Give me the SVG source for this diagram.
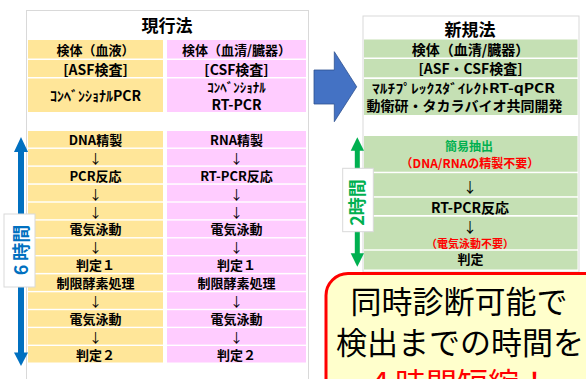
<svg xmlns="http://www.w3.org/2000/svg" width="586" height="379" viewBox="0 0 586 379">
<style>
text{font-family:"Noto Sans CJK JP","Noto Sans",sans-serif;dominant-baseline:central;text-anchor:middle;fill:#000}
.b{font-weight:bold}
.t{font-size:17px;font-weight:bold}
.h{font-size:13px;font-weight:bold}
.m{font-size:14px;font-weight:bold}
.s{font-size:13px;font-weight:bold}
.c{font-size:13px;font-weight:bold}
.ar{font-size:13px}
.y{fill:#FFE699}
.p{fill:#FFCCFF}
.g{fill:#C5E0B4}
.panel{fill:#fff;stroke:#D9D9D9;stroke-width:1}
.big{font-size:31px;font-weight:normal}
</style>
<rect width="586" height="379" fill="#fff"/>

<g id="left-panel">
<rect class="panel" x="26.5" y="10.5" width="282" height="380"/>
<text class="t" x="167" y="24">現行法</text>
</g>

<g id="left-col-asf">
<rect class="y" x="28" y="40" width="135" height="18.5"/>
<rect class="y" x="28" y="60" width="135" height="17"/>
<rect class="y" x="28" y="78.5" width="135" height="33.5"/>
<text class="h" x="95.5" y="49.5">検体（血液）</text>
<text class="m" x="95.5" y="68.5">[ASF検査]</text>
<text class="m" x="95.5" y="94.5">ｺﾝﾍﾞﾝｼｮﾅﾙPCR</text>
</g>

<g id="left-col-csf">
<rect class="p" x="167" y="40" width="139" height="18.5"/>
<rect class="p" x="167" y="60" width="139" height="17"/>
<rect class="p" x="167" y="78.5" width="139" height="33.5"/>
<text class="h" x="236.5" y="49.5">検体（血清/臓器）</text>
<text class="m" x="236.5" y="68.5">[CSF検査]</text>
<text class="s" x="236.5" y="86.5">ｺﾝﾍﾞﾝｼｮﾅﾙ</text>
<text class="m" x="236.5" y="103.5">RT-PCR</text>
</g>

<g id="left-steps-asf">
<rect class="y" x="28" y="131" width="135" height="16.5"/>
<rect class="y" x="28" y="148.9" width="135" height="16.5"/>
<rect class="y" x="28" y="166.8" width="135" height="16.5"/>
<rect class="y" x="28" y="184.8" width="135" height="16.5"/>
<rect class="y" x="28" y="202.7" width="135" height="16.5"/>
<rect class="y" x="28" y="220.6" width="135" height="16.5"/>
<rect class="y" x="28" y="238.5" width="135" height="16.5"/>
<rect class="y" x="28" y="256.4" width="135" height="16.5"/>
<rect class="y" x="28" y="274.4" width="135" height="16.5"/>
<rect class="y" x="28" y="292.3" width="135" height="16.5"/>
<rect class="y" x="28" y="310.2" width="135" height="16.5"/>
<rect class="y" x="28" y="328.1" width="135" height="16.5"/>
<rect class="y" x="28" y="346" width="135" height="16.5"/>
<text class="c" x="95.5" y="139.3">DNA精製</text>
<text class="ar" x="95.5" y="157.2">↓</text>
<text class="c" x="95.5" y="175.1">PCR反応</text>
<text class="ar" x="95.5" y="193">↓</text>
<text class="ar" x="95.5" y="211">↓</text>
<text class="c" x="95.5" y="228.9">電気泳動</text>
<text class="ar" x="95.5" y="246.8">↓</text>
<text class="c" x="95.5" y="264.7">判定１</text>
<text class="c" x="95.5" y="282.6">制限酵素処理</text>
<text class="ar" x="95.5" y="300.5">↓</text>
<text class="c" x="95.5" y="318.5">電気泳動</text>
<text class="ar" x="95.5" y="336.4">↓</text>
<text class="c" x="95.5" y="354.3">判定２</text>
</g>

<g id="left-steps-csf">
<rect class="p" x="167" y="131" width="139" height="16.5"/>
<rect class="p" x="167" y="148.9" width="139" height="16.5"/>
<rect class="p" x="167" y="166.8" width="139" height="16.5"/>
<rect class="p" x="167" y="184.8" width="139" height="16.5"/>
<rect class="p" x="167" y="202.7" width="139" height="16.5"/>
<rect class="p" x="167" y="220.6" width="139" height="16.5"/>
<rect class="p" x="167" y="238.5" width="139" height="16.5"/>
<rect class="p" x="167" y="256.4" width="139" height="16.5"/>
<rect class="p" x="167" y="274.4" width="139" height="16.5"/>
<rect class="p" x="167" y="292.3" width="139" height="16.5"/>
<rect class="p" x="167" y="310.2" width="139" height="16.5"/>
<rect class="p" x="167" y="328.1" width="139" height="16.5"/>
<rect class="p" x="167" y="346" width="139" height="16.5"/>
<text class="c" x="236.5" y="139.3">RNA精製</text>
<text class="ar" x="236.5" y="157.2">↓</text>
<text class="c" x="236.5" y="175.1">RT-PCR反応</text>
<text class="ar" x="236.5" y="193">↓</text>
<text class="ar" x="236.5" y="211">↓</text>
<text class="c" x="236.5" y="228.9">電気泳動</text>
<text class="ar" x="236.5" y="246.8">↓</text>
<text class="c" x="236.5" y="264.7">判定１</text>
<text class="c" x="236.5" y="282.6">制限酵素処理</text>
<text class="ar" x="236.5" y="300.5">↓</text>
<text class="c" x="236.5" y="318.5">電気泳動</text>
<text class="ar" x="236.5" y="336.4">↓</text>
<text class="c" x="236.5" y="354.3">判定２</text>
</g>

<g id="time-6h">
<rect x="18" y="151" width="6" height="202" fill="#0070C0"/>
<polygon points="14,152 21,137 28,152" fill="#0070C0"/>
<polygon points="14,352.5 21,366 28,352.5" fill="#0070C0"/>
<rect x="4" y="214" width="31" height="73" fill="#fff" stroke="#D9D9D9" stroke-width="1"/>
<text class="b" x="19.5" y="250" font-size="18" style="fill:#0070C0" transform="rotate(-90 19.5 250)">6 時間</text>
</g>

<g id="connectors">
<polygon points="314,70 334.3,70 334.3,51.7 356.7,86.8 334.3,121.7 334.3,104 314,104" fill="#4472C4" stroke="#2F528F" stroke-width="0.8"/>
</g>

<g id="right-panel">
<rect class="panel" x="363" y="16" width="216" height="256"/>
<text class="t" x="470" y="28">新規法</text>
</g>

<g id="right-header">
<rect class="g" x="364" y="39.5" width="213.5" height="18"/>
<rect class="g" x="364" y="59" width="213.5" height="18.3"/>
<rect class="g" x="364" y="79" width="213.5" height="36"/>
<text class="h" x="470.5" y="48.5" style="font-size:14px">検体（血清/臓器）</text>
<text class="m" x="470.5" y="68">[ASF・CSF検査]</text>
<text class="s" x="463.5" y="87.5" textLength="183" lengthAdjust="spacingAndGlyphs">ﾏﾙﾁﾌﾟﾚｯｸｽﾀﾞｲﾚｸﾄRT-qPCR</text>
<text class="m" x="464.5" y="105">動衛研・タカラバイオ共同開発</text>
</g>

<g id="right-steps">
<rect class="g" x="364" y="136" width="213.5" height="35.7"/>
<rect class="g" x="364" y="173.2" width="213.5" height="23"/>
<rect class="g" x="364" y="197.7" width="213.5" height="17.3"/>
<rect class="g" x="364" y="216.7" width="213.5" height="32.6"/>
<rect class="g" x="364" y="250.7" width="213.5" height="18.8"/>
<text class="c" x="469" y="145" style="fill:#00B050;font-size:12px">簡易抽出</text>
<text class="c" x="470" y="162.3" style="fill:#FF0000;font-size:12px">（DNA/RNAの精製不要）</text>
<text class="ar" x="470" y="185.7" style="font-size:14px">↓</text>
<text class="m" x="470" y="206.5">RT-PCR反応</text>
<text class="ar" x="470" y="226" style="font-size:14px">↓</text>
<text class="c" x="470" y="242.7" style="fill:#FF0000;font-size:11px">（電気泳動不要）</text>
<text class="c" x="470.5" y="258.5">判定</text>
</g>

<g id="time-2h">
<rect x="354.8" y="150" width="5" height="104" fill="#00B050"/>
<polygon points="350.7,150.7 357.3,137.3 364,150.7" fill="#00B050"/>
<polygon points="350.7,253.3 357.3,266.7 364,253.3" fill="#00B050"/>
<rect x="342.7" y="168.3" width="30.6" height="63.4" fill="#fff" stroke="#D9D9D9" stroke-width="1"/>
<text class="b" x="356" y="202.5" font-size="18" style="fill:#00B050" transform="rotate(-90 356 202.5)">2時間</text>
</g>

<g id="callout">
<rect x="326" y="273.5" width="300" height="160" rx="22" ry="22" fill="#FFFFCC" stroke="#FF0000" stroke-width="3"/>
<text class="big" x="459" y="299">同時診断可能で</text>
<text class="big" x="460" y="340">検出までの時間を</text>
<text class="big" x="457" y="381" style="fill:#FF0000">４時間短縮！</text>
</g>
</svg>
